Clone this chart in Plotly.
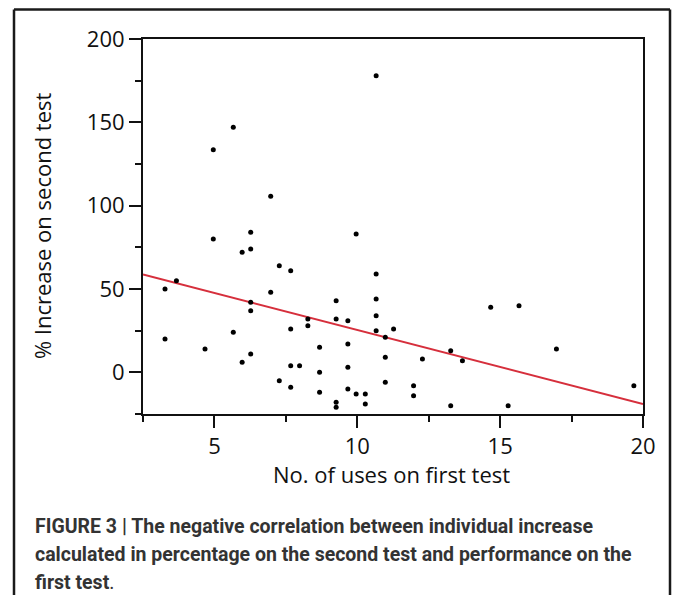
import plotly.graph_objects as go

# Data
uses_first = [5.66, 4.96, 6.97, 10.66, 6.27, 4.96, 6.27, 5.97, 7.27, 7.67,
              3.67, 3.27, 6.97, 6.27, 6.27, 8.27, 8.27, 7.67, 5.66, 3.27,
              4.67, 8.68, 6.27, 5.97, 7.67, 7.98, 8.68, 7.27, 7.67, 8.68,
              9.96, 10.66, 9.26, 10.66, 10.66, 9.26, 9.67, 10.66, 11.27, 10.98,
              9.67, 10.98, 12.28, 13.27, 13.68, 9.67, 10.98, 11.97, 9.67, 9.96,
              10.28, 11.97, 9.26, 10.28, 9.26, 13.27, 15.28, 14.67, 15.66, 16.97,
              19.68]
pct_increase = [147, 133.5, 105.6, 178, 84, 80, 74, 72, 64, 61,
                55, 50, 48, 42, 37, 32, 28, 26, 24, 20,
                14, 15, 11, 6, 4, 4, 0, -5, -9, -12,
                83, 59, 43, 44, 34, 32, 31, 25, 26, 21,
                17, 9, 8, 13, 7, 3, -6, -8, -10, -13,
                -13, -14, -18, -19, -21, -20, -20, 39, 40, 14,
                -8]
fit_x = [2.5, 20]
fit_y = [58.7, -19.0]

x_ticks = [5, 10, 15, 20]
y_ticks = [0, 50, 100, 150, 200]

W, H = 673, 595
L, R, T, B = 143, 643, 38.5, 414.3

fig = go.Figure()
fig.add_trace(go.Scatter(x=fit_x, y=fit_y, mode="lines",
                         line=dict(color="#d62f3c", width=2), hoverinfo="skip"))
fig.add_trace(go.Scatter(x=uses_first, y=pct_increase, mode="markers",
                         marker=dict(color="black", size=5)))

tickfont = dict(family="Open Sans", size=22, color="#111")
fig.update_xaxes(range=[2.5, 20], tickvals=x_ticks, ticks="outside", ticklen=12,
                 tickwidth=2, tickcolor="#111", showline=True, linecolor="#111",
                 linewidth=2, mirror=True, showgrid=False, zeroline=False,
                 tickfont=tickfont,
                 minor=dict(tickvals=[2.5, 7.5, 12.5, 17.5], ticks="outside",
                            ticklen=6, tickwidth=2, tickcolor="#111"))
fig.update_yaxes(range=[-25, 200], tickvals=y_ticks, ticks="outside", ticklen=12,
                 tickwidth=2, tickcolor="#111", showline=True, linecolor="#111",
                 linewidth=2, mirror=True, showgrid=False, zeroline=False,
                 tickfont=tickfont,
                 minor=dict(tickvals=[-25, 25, 75, 125, 175], ticks="outside",
                            ticklen=6, tickwidth=2, tickcolor="#111"))

def px(xp):
    return (xp - L) / (R - L)

def py(yp):
    return (B - yp) / (B - T)

fig.add_annotation(text="No. of uses on first test", xref="paper", yref="paper",
                   x=px(391), y=py(474), showarrow=False,
                   font=dict(family="Open Sans", size=22, color="#111"),
                   xanchor="center", yanchor="middle")
fig.add_annotation(text="% Increase on second test", xref="paper", yref="paper",
                   x=px(42), y=py(226), showarrow=False, textangle=-90,
                   font=dict(family="Open Sans", size=22, color="#111"),
                   xanchor="center", yanchor="middle")

caption_lines = ["FIGURE 3 | The negative correlation between individual increase",
                 "calculated in percentage on the second test and performance on the",
                 "first test<span style='font-weight:normal'>.</span>"]
for i, line in enumerate(caption_lines):
    fig.add_annotation(text="<b>" + line + "</b>", xref="paper", yref="paper",
                       x=px(33), y=py(527 + 28 * i), showarrow=False,
                       font=dict(family="Roboto", size=19.5, color="#333"),
                       xanchor="left", yanchor="middle", align="left")

# outer frame as four separate lines
frame = dict(color="#1a1a1a", width=2.5)
x_l, x_r, y_t, y_b = px(14), px(670), py(9), py(640)
for (a, b, c, d) in [(x_l, y_t, x_r, y_t), (x_l, y_t, x_l, y_b),
                     (x_r, y_t, x_r, y_b)]:
    fig.add_shape(type="line", xref="paper", yref="paper",
                  x0=a, y0=b, x1=c, y1=d, line=frame, layer="above")

fig.update_layout(width=W, height=H, showlegend=False,
                  margin=dict(l=L, r=W - R, t=T, b=H - B),
                  plot_bgcolor="white", paper_bgcolor="white")

fig.write_html("out.html", config={"displayModeBar": False},
               post_script="document.body.style.margin='0';document.body.style.padding='0';")
